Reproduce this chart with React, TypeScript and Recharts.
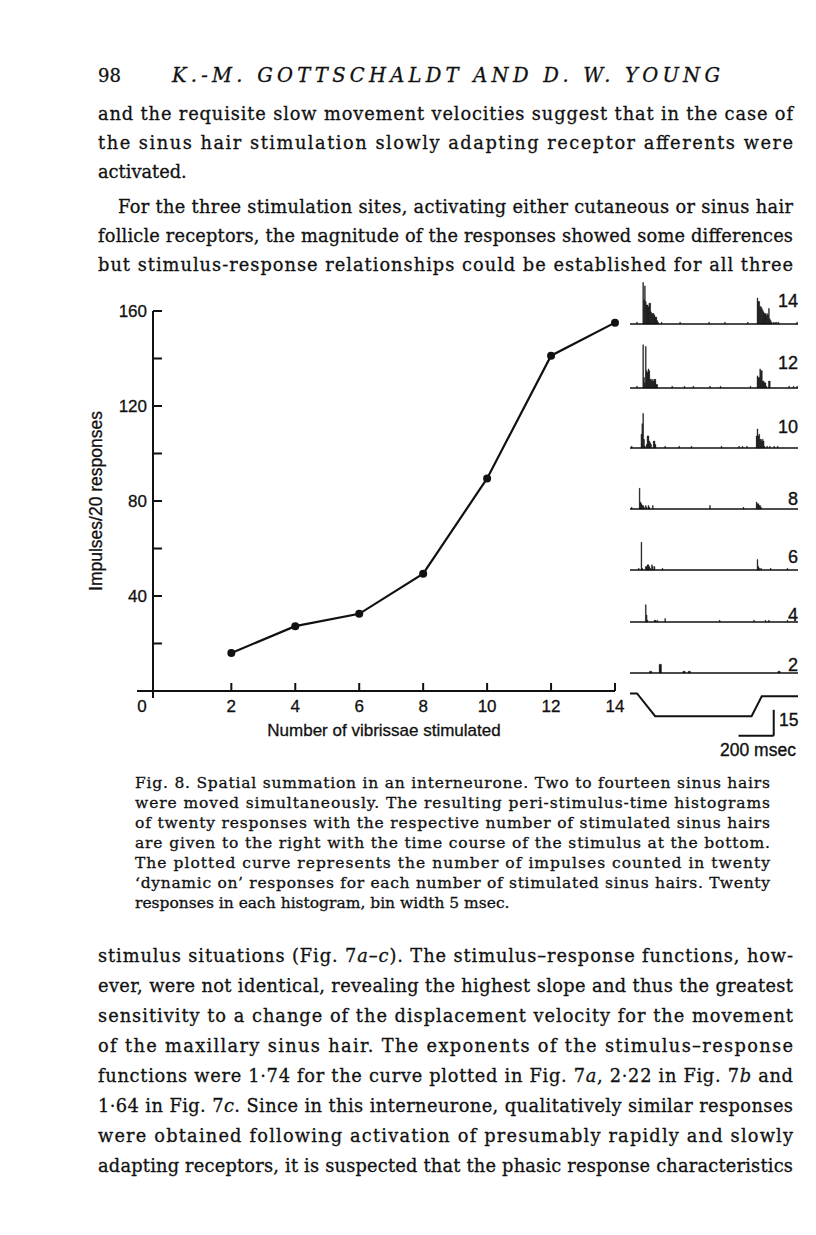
import React from "react"
import {
  LineChart, Line, BarChart, Bar, XAxis, YAxis, ReferenceLine,
} from "recharts"

// main curve: impulses in 20 'dynamic on' responses vs number of hairs
const vibrissae = [2, 4, 6, 8, 10, 12, 14]
const impulses = [16, 27.3, 32.5, 49.4, 89.5, 141.2, 155.1]
const xTicks = [2, 4, 6, 8, 10, 12, 14]
const yTicks = [0, 20, 40, 60, 80, 100, 120, 140, 160]
const yTickLabels = [40, 80, 120, 160]

// peri-stimulus-time histograms, 5 msec bins: [msec, count], empty bins left out
const psth14 = [
  [40, 1], [75, 24], [80, 14], [85, 22], [90, 13], [95, 11], [100, 11], [105, 10], [110, 12],
  [115, 12], [120, 7], [125, 6], [130, 6], [135, 6], [140, 5], [145, 4], [150, 4], [155, 2],
  [160, 1], [180, 1], [285, 1], [450, 1], [540, 1], [670, 1], [725, 15], [730, 13], [735, 13],
  [740, 10], [745, 10], [750, 9], [755, 8], [760, 7], [765, 6], [770, 6], [775, 5], [780, 6],
  [785, 5], [790, 9], [795, 3], [800, 2], [805, 1], [815, 1], [825, 1], [835, 1], [845, 1], [950, 1],
]
const psth12 = [
  [40, 1], [75, 25], [80, 6], [85, 3], [90, 24], [95, 10], [100, 9], [105, 11], [110, 10],
  [115, 5], [120, 5], [125, 4], [130, 5], [135, 4], [140, 5], [145, 5], [150, 2], [155, 2],
  [240, 1], [310, 1], [360, 1], [455, 1], [515, 1], [685, 1], [725, 7], [730, 6], [735, 6],
  [740, 11], [745, 10], [750, 10], [755, 4], [760, 4], [765, 3], [770, 3], [775, 1], [790, 4],
  [795, 4], [905, 1], [930, 1], [950, 1],
]
const psth10 = [
  [10, 1], [65, 8], [70, 14], [75, 20], [80, 5], [85, 1], [95, 2], [100, 7], [105, 7], [110, 4],
  [115, 3], [120, 2], [135, 4], [140, 4], [145, 2], [200, 1], [280, 1], [350, 1], [520, 1],
  [620, 1], [640, 1], [665, 1], [720, 7], [725, 11], [730, 7], [735, 8], [740, 5], [745, 5],
  [750, 4], [755, 5], [760, 4], [765, 1], [780, 1], [795, 1], [820, 1], [840, 1],
]
const psth8 = [
  [10, 1], [55, 12], [60, 4], [65, 3], [70, 2], [75, 2], [80, 1], [90, 2], [95, 1], [105, 2],
  [110, 1], [130, 2], [455, 2], [645, 1], [720, 4], [725, 3], [730, 3], [735, 2], [740, 2], [745, 1],
]
const psth6 = [
  [50, 1], [65, 16], [70, 1], [90, 2], [95, 2], [100, 3], [105, 3], [110, 2], [115, 1], [125, 3],
  [130, 2], [140, 2], [185, 1], [725, 6], [730, 2], [735, 1], [745, 1], [800, 1], [895, 1],
]
const psth4 = [
  [90, 10], [95, 4], [100, 1], [140, 1], [145, 1], [155, 1], [200, 2], [510, 1], [705, 1],
  [770, 1], [790, 1], [895, 1],
]
const psth2 = [[120, 1], [175, 5], [310, 1], [340, 1], [850, 1]]

const histNames = ["14", "12", "10", "8", "6", "4", "2"]
const histBins = [psth14, psth12, psth10, psth8, psth6, psth4, psth2]

// stimulus time course (msec, displacement in count units of the histograms)
const stimTime = [0, 40, 143, 691, 749, 955]
const stimLevel = [38.5, 38.5, 25.3, 25.3, 36.8, 36.8]
const SCALE_MS = 200
const SCALE_COUNT = 15

// page text
const topLines = [
  "and the requisite slow movement velocities suggest that in the case of",
  "the sinus hair stimulation slowly adapting receptor afferents were",
  "activated.",
  "For the three stimulation sites, activating either cutaneous or sinus hair",
  "follicle receptors, the magnitude of the responses showed some differences",
  "but stimulus-response relationships could be established for all three",
]
const captionLines = [
  "Fig. 8. Spatial summation in an interneurone. Two to fourteen sinus hairs",
  "were moved simultaneously. The resulting peri-stimulus-time histograms",
  "of twenty responses with the respective number of stimulated sinus hairs",
  "are given to the right with the time course of the stimulus at the bottom.",
  "The plotted curve represents the number of impulses counted in twenty",
  "\u2018dynamic on\u2019 responses for each number of stimulated sinus hairs. Twenty",
  "responses in each histogram, bin width 5 msec.",
]
const bottomLines = [
  "stimulus situations (Fig. 7*a\u2013c*). The stimulus\u2013response functions, how-",
  "ever, were not identical, revealing the highest slope and thus the greatest",
  "sensitivity to a change of the displacement velocity for the movement",
  "of the maxillary sinus hair. The exponents of the stimulus\u2013response",
  "functions were 1\u00b774 for the curve plotted in Fig. 7*a*, 2\u00b722 in Fig. 7*b* and",
  "1\u00b764 in Fig. 7*c*. Since in this interneurone, qualitatively similar responses",
  "were obtained following activation of presumably rapidly and slowly",
  "adapting receptors, it is suspected that the phasic response characteristics",
]

const curve = vibrissae.map((n, i) => ({ n, imp: impulses[i] }))
const stimulus = stimTime.map((t, i) => ({ t, v: stimLevel[i] }))

const INK = "#111"
const serif = "'DejaVu Serif', serif"
const sans = "'Liberation Sans', Arial, sans-serif"

// layout
const HIST_BASE = [324, 388, 448, 509, 570, 622, 673]
const HIST_LABEL_RISE = [24, 26, 22, 11, 14, 8, 9]
const PX_PER_COUNT = 1.73

const Segs = ({ s }: { s: string }) => (
  <>
    {s.split("*").map((p, i) => (
      <tspan key={i} fontStyle={i % 2 ? "italic" : "normal"}>{p}</tspan>
    ))}
  </>
)

const TextBlock = ({ lines, x, right, y0, step, size, ragged, indent }: any) => (
  <g fontFamily={serif} fontSize={size} fill={INK} stroke={INK} strokeWidth={0.3}>
    {lines.map((l: string, i: number) => {
      const lx = x + (indent && indent[i] ? indent[i] : 0)
      const justify = !(ragged && ragged.includes(i))
      return (
        <text key={i} x={lx} y={y0 + (Array.isArray(step) ? step[i] : i * step)}
          textLength={justify ? right - lx : undefined} lengthAdjust="spacing">
          <Segs s={l} />
        </text>
      )
    })}
  </g>
)

const labelText = { fontFamily: sans, fontSize: 17, fill: INK, stroke: INK, strokeWidth: 0.3 }

const XTick = ({ x, y, payload }: any) => (
  <g>
    <line x1={x} y1={y} x2={x} y2={y - 8} stroke={INK} strokeWidth={2} />
    <text x={x} y={y + 21} textAnchor="middle" {...labelText}>
      {payload.value}
    </text>
  </g>
)

const YTick = ({ x, y, payload }: any) => {
  const v = payload.value
  if (v === 0) {
    return (
      <g>
        <line x1={x - 16} y1={y} x2={x} y2={y} stroke={INK} strokeWidth={2} />
        <line x1={x} y1={y} x2={x} y2={y + 7} stroke={INK} strokeWidth={2} />
        <text x={x - 11} y={y + 21} textAnchor="middle" {...labelText}>0</text>
      </g>
    )
  }
  return (
    <g>
      <line x1={x} y1={y} x2={x + 9} y2={y} stroke={INK} strokeWidth={2} />
      {yTickLabels.includes(v) && (
        <text x={x - 6} y={y + 6} textAnchor="end" {...labelText}>{v}</text>
      )}
    </g>
  )
}

export default function App() {
  return (
    <div style={{ position: "absolute", left: 0, top: 0, width: 816, height: 1235, background: "#fff", overflow: "hidden" }}>
      <svg width={816} height={1235} style={{ position: "absolute", left: 0, top: 0 }}>
        <g fontFamily={serif} fill={INK} stroke={INK} strokeWidth={0.3}>
          <text x={98} y={82} fontSize={18}>98</text>
          <text x={172} y={82} fontSize={19.5} fontStyle="italic"
            textLength={548} lengthAdjust="spacing">K.-M. GOTTSCHALDT AND D. W. YOUNG</text>
        </g>
        <TextBlock lines={topLines} x={98} right={793} y0={120} step={[0, 29, 58, 93, 122, 151]}
          size={17.8} ragged={[2]} indent={[0, 0, 0, 20, 0, 0]} />
        <TextBlock lines={captionLines} x={135} right={770} y0={788} step={20} size={15.5} ragged={[6]} />
        <TextBlock lines={bottomLines} x={98} right={793} y0={962} step={30} size={17.8} />
        <g fontFamily={sans} fontSize={18} fill={INK} stroke={INK} strokeWidth={0.35}>
          {histNames.map((n, i) => (
            <text key={n} x={798} y={HIST_BASE[i] - HIST_LABEL_RISE[i] + 6.5} textAnchor="end">{n}</text>
          ))}
          <text x={779} y={726} fontSize={17.5}>{SCALE_COUNT}</text>
          <text x={758} y={756} fontSize={17.5} textAnchor="middle">{SCALE_MS} msec</text>
        </g>
      </svg>

      <div style={{ position: "absolute", left: 60, top: 290 }}>
        <LineChart width={570} height={470} data={curve} margin={{ top: 21, right: 15, bottom: 0, left: 0 }}>
          <XAxis type="number" dataKey="n" domain={[-0.45, 14]} ticks={xTicks} interval={0}
            tick={<XTick />} tickLine={false} tickSize={0} tickMargin={0} height={69}
            axisLine={{ stroke: INK, strokeWidth: 2 }}
            label={{ value: "Number of vibrissae stimulated", position: "insideBottom", offset: 24,
              style: labelText }} />
          <YAxis type="number" domain={[0, 160]} ticks={yTicks} interval={0} width={93}
            tick={<YTick />} tickLine={false} tickSize={0} tickMargin={0}
            axisLine={{ stroke: INK, strokeWidth: 2 }}
            label={{ value: "Impulses/20 responses", angle: -90, position: "insideLeft", offset: 36,
              style: { ...labelText, textAnchor: "middle", fontSize: 17.5 } }} />
          <Line dataKey="imp" type="linear" stroke={INK} strokeWidth={2.2}
            dot={{ r: 4, fill: INK, stroke: "none" }} isAnimationActive={false} />
        </LineChart>
      </div>

      {histBins.map((bins, i) => (
        <div key={i} style={{ position: "absolute", left: 630, top: HIST_BASE[i] - 50 }}>
          <BarChart width={168} height={52} data={bins.map(([t, c]) => ({ t, c }))}
            margin={{ top: 0, right: 0, bottom: 2, left: 0 }}>
            <XAxis type="number" dataKey="t" domain={[0, 955]} hide />
            <YAxis type="number" domain={[0, 50 / PX_PER_COUNT]} hide />
            <ReferenceLine y={0} stroke={INK} strokeWidth={1.6} />
            <Bar dataKey="c" fill={INK} stroke={INK} strokeWidth={0.4} barSize={2.3} isAnimationActive={false} />
          </BarChart>
        </div>
      ))}

      <div style={{ position: "absolute", left: 630, top: 680 }}>
        <LineChart width={168} height={80} data={stimulus} margin={{ top: 0, right: 0, bottom: 0, left: 0 }}>
          <XAxis type="number" dataKey="t" domain={[0, 955]} hide />
          <YAxis type="number" domain={[0, 80 / PX_PER_COUNT]} hide />
          <Line dataKey="v" type="linear" stroke={INK} strokeWidth={2} dot={false} isAnimationActive={false} />
          <ReferenceLine segment={[{ x: 817, y: 14 }, { x: 817, y: 14 + SCALE_COUNT }]}
            stroke={INK} strokeWidth={2} ifOverflow="visible" />
          <ReferenceLine segment={[{ x: 817 - SCALE_MS, y: 14 }, { x: 817, y: 14 }]}
            stroke={INK} strokeWidth={2} ifOverflow="visible" />
        </LineChart>
      </div>
    </div>
  )
}
